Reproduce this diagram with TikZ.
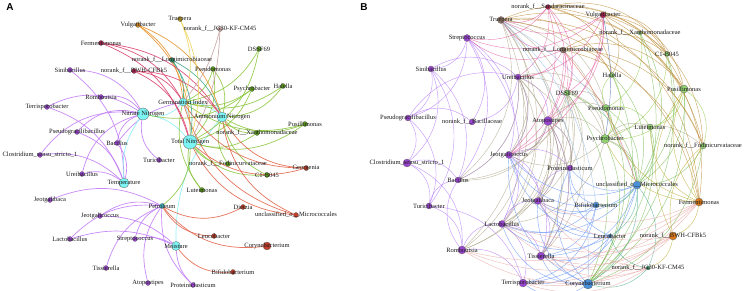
\documentclass[tikz,border=0pt]{standalone}
\usepackage{fontspec}
\setmainfont{Liberation Serif}
\newfontfamily\panelfont{Liberation Sans}
\usetikzlibrary{positioning}
\pgfdeclarelayer{edges}
\pgfsetlayers{edges,main}
\definecolor{EnvCyan}{HTML}{7DF4F4}
\definecolor{EnvEdge}{HTML}{86EEF6}
\definecolor{BacDot}{HTML}{9A45D0}
\definecolor{BacEdge}{HTML}{C27CF6}
\definecolor{ProDot}{HTML}{5E9F1A}
\definecolor{ProEdge}{HTML}{8CC63E}
\definecolor{ActDot}{HTML}{C4402A}
\definecolor{ActEdge}{HTML}{E3654A}
\definecolor{CrimDot}{HTML}{A8224E}
\definecolor{CrimEdge}{HTML}{D9416E}
\definecolor{OrgDot}{HTML}{D98A1E}
\definecolor{OrgEdge}{HTML}{E8922A}
\definecolor{YelDot}{HTML}{C9A62A}
\definecolor{YelEdge}{HTML}{F0D45A}
\definecolor{RoseEdge}{HTML}{C9A3A3}
\definecolor{TealDot}{HTML}{2F8F63}
\definecolor{TealEdge}{HTML}{43A98A}
\definecolor{PetDot}{HTML}{3DB8C2}
\definecolor{BlueDot}{HTML}{4A90D9}
\definecolor{BlueEdge}{HTML}{5C8DF2}
\definecolor{KhakiEdge}{HTML}{A9A282}
\definecolor{GoldEdge}{HTML}{B8862E}
\definecolor{PinkEdge}{HTML}{E0579B}
\definecolor{OliveEdge}{HTML}{BBA92C}
\definecolor{SalmonEdge}{HTML}{E8A2A0}
\definecolor{BrnDot}{HTML}{8F7565}
\definecolor{FermDot}{HTML}{D9791C}
\tikzset{
  dot/.style={circle, draw=black!60, line width=0.3pt, inner sep=0pt, minimum size=#1},
  lbl/.style={font=\fontsize{6.5}{7}\selectfont, text=black!90, inner sep=0pt},
  edgeA/.style={line width=0.7pt, opacity=0.9},
  edgeB/.style={line width=0.45pt, opacity=0.7},
  panel/.style={font=\panelfont\bfseries\fontsize{10}{10}\selectfont, inner sep=0pt}
}

\begin{document}
\begin{tikzpicture}[x=1pt, y=-1pt]
\useasboundingbox (0,0) rectangle (748,291);
\node[panel] (panelA) at (10,7) {A};
\node[panel] (panelB) at (364,7) {B};

% ---- panel A ----
\foreach \n/\x/\y/\r/\lab in {aNN/143/114/12/Nitrate Nitrogen, aTN/190/142/14/Total Nitrogen,
    aAN/222/117/10/Ammonium Nitrogen, aGI/183/102/8/Germination Index,
    aTemp/124/183/10/Temperature, aMoi/176/246/9/Moisture}
  \node[dot=\r pt, fill=EnvCyan] (\n) at (\x,\y) {} node[lbl] (\n-t) at (\x,\y) {\lab};
\node[dot=5pt, fill=PetDot] (aPet) at (162,206) {} node[lbl] (aPet-t) at (162,206) {Petroleum};
\foreach \n/\x/\y/\lab in {aSini/70/70/Sinibacillus, aRomb/101/97/Romboutsia, aTerr/47/107/Terrisporobacter,
    aPsg/77/132/Pseudogracilibacillus, aBac/117/143/Bacillus, aTuri/159/160/Turicibacter,
    aClos/40/155/Clostridium\_sensu\_stricto\_1, aUrei/82/174/Ureibacillus, aJeob/50/200/Jeotgalibaca,
    aJeoc/100/216/Jeotgalicoccus, aLac/70/239/Lactobacillus, aStr/135/239/Streptococcus,
    aTis/106/268/Tissierella, aAto/148/283/Atopostipes, aPro/193/285/Proteiniclasticum}
  \node[dot=5pt, fill=BacDot] (\n) at (\x,\y) {} node[lbl] (\n-t) at (\x,\y) {\lab};
\foreach \n/\x/\y/\lab in {aDSS/259/49/DSSF69, aPseu/213/69/Pseudomonas, aPsy/252/89/Psychrobacter,
    aHal/283/86/Halella, aPus/305/124/Pusillimonas, aXan/257/133/norank\_f\_\_Xanthomonadaceae,
    aFod/228/164/norank\_f\_\_Fodinicurvataceae, aC1/267/175/C1-B045, aLut/202/190/Luteimonas}
  \node[dot=5pt, fill=ProDot] (\n) at (\x,\y) {} node[lbl] (\n-t) at (\x,\y) {\lab};
\foreach \n/\x/\y/\r/\lab in {aGeo/306/168/5/Georgenia, aDie/243/207/5/Dietzia,
    aMic/296/215/5/unclassified\_o\_\_Micrococcales, aLeu/214/236/5/Leucobacter,
    aCor/267/246/8/Corynebacterium, aBif/233/272/5/Bifidobacterium}
  \node[dot=\r pt, fill=ActDot] (\n) at (\x,\y) {} node[lbl] (\n-t) at (\x,\y) {\lab};
\node[dot=5pt, fill=YelDot] (aTrue) at (180,19) {} node[lbl] (aTrue-t) at (180,19) {Truepera};
\node[dot=5pt, fill=RoseEdge] (aJG) at (220,29) {} node[lbl] (aJG-t) at (220,29) {norank\_f\_\_JG30-KF-CM45};
\node[dot=5pt, fill=OrgDot] (aVulg) at (138,25) {} node[lbl] (aVulg-t) at (138,25) {Vulgatibacter};
\node[dot=5pt, fill=CrimDot] (aFerm) at (101,43) {} node[lbl] (aFerm-t) at (101,43) {Fermentimonas};
\node[dot=5pt, fill=TealDot] (aLongi) at (172,60) {} node[lbl] (aLongi-t) at (172,60) {norank\_f\_\_Longimicrobiaceae};
\node[dot=5pt, fill=CrimDot] (aBWH) at (134,71) {} node[lbl] (aBWH-t) at (134,71) {norank\_f\_\_BWH-CFBk5};

\begin{pgfonlayer}{edges}
\foreach \src in {aSini,aRomb,aTerr,aPsg,aBac,aClos,aUrei,aTuri}
  \draw[edgeA,BacEdge] (\src) to[bend left=30] (aNN);
\foreach \src in {aSini,aTerr,aPsg,aBac,aClos,aUrei}
  \draw[edgeA,BacEdge] (\src) to[bend left=25] (aTemp);
\draw[edgeA,BacEdge] (aBac) to[bend left=20] (aGI);
\foreach \src in {aJeob,aJeoc,aLac,aStr,aTis,aAto,aPro}
  \draw[edgeA,BacEdge] (\src) to[bend left=25] (aPet);
\foreach \src in {aJeoc,aStr,aLac,aPro}
  \draw[edgeA,BacEdge] (\src) to[bend left=20] (aMoi);
% environment links
\draw[edgeA,EnvEdge] (aGI) to[bend left=30] (aNN);
\draw[edgeA,EnvEdge] (aNN) to[bend left=20] (aTN);
\draw[edgeA,EnvEdge] (aGI) to[bend left=20] (aAN);
\draw[edgeA,EnvEdge] (aGI) to[bend left=15] (aTN);
\draw[edgeA,EnvEdge] (aTemp) to[bend left=20] (aNN);
\draw[edgeA,EnvEdge] (aMoi) to[bend left=20] (aAN);
% proteobacteria
\foreach \src/\dst in {aPseu/aGI,aPseu/aTN,aPseu/aAN,aPsy/aGI,aPsy/aTN,aPsy/aNN,aHal/aGI,aHal/aAN,
    aPus/aGI,aPus/aAN,aPus/aTN,aXan/aAN,aXan/aTN,aDSS/aGI,aDSS/aTN,aFod/aTN,aFod/aAN,
    aC1/aTN,aC1/aAN,aLut/aTN,aLut/aGI,aTN/aPet}
  \draw[edgeA,ProEdge] (\src) to[bend left=25] (\dst);
% actinobacteria
\foreach \src/\dst in {aGeo/aTN,aGeo/aAN,aGeo/aGI,aMic/aTN,aMic/aAN,aMic/aGI,
    aDie/aPet,aLeu/aPet,aCor/aPet,aBif/aMoi}
  \draw[edgeA,ActEdge] (\src) to[bend left=28] (\dst);
\foreach \dst in {aGI,aTN,aAN} {
  \draw[edgeA,CrimEdge] (aFerm) to[bend left=25] (\dst);
  \draw[edgeA,CrimEdge] (aBWH) to[bend left=25] (\dst);
  \draw[edgeA,OrgEdge] (aVulg) to[bend left=25] (\dst);
  \draw[edgeA,TealEdge] (aLongi) to[bend left=20] (\dst);
}
\foreach \dst in {aGI,aTN} {
  \draw[edgeA,YelEdge] (aTrue) to[bend left=20] (\dst);
  \draw[edgeA,RoseEdge] (aJG) to[bend left=12] (\dst);
}
\end{pgfonlayer}

% ---- panel B ----
\foreach \n/\x/\y/\r/\lab in {bStr/467/38/7/Streptococcus, bSini/431/69/6/Sinibacillus, bUrei/518/77/6/Ureibacillus,
    bPsg/408/118/6/Pseudogracilibacillus, bBacil/472/122/6/norank\_f\_\_Bacillaceae, bAto/548/121/9/Atopostipes,
    bJeoc/509/155/7/Jeotgalicoccus, bPro/570/168/6/Proteiniclasticum, bClos/407/163/8/Clostridium\_sensu\_stricto\_1,
    bBac/458/180/6/Bacillus, bTuri/429/206/6/Turicibacter, bJeob/538/201/7/Jeotgalibaca,
    bLac/502/224/7/Lactobacillus, bRomb/462/250/8/Romboutsia, bTis/541/256/8/Tissierella,
    bTerr/523/283/8/Terrisporobacter}
  \node[dot=\r pt, fill=BacDot] (\n) at (\x,\y) {} node[lbl] (\n-t) at (\x,\y) {\lab};
\foreach \n/\x/\y/\r/\lab in {bXan/640/33/4/norank\_f\_\_Xanthomonadaceae, bC1/667/54/5/C1-B045,
    bHal/612/75/5/Halella, bPus/684/89/8/Pusillimonas, bDSS/567/93/6/DSSF69, bPseu/606/108/7/Pseudomonas,
    bPsy/605/139/9/Psychrobacter, bLut/650/127/6/Luteimonas, bFod/703/146/6/norank\_f\_\_Fodinicurvataceae}
  \node[dot=\r pt, fill=ProDot!80!green!60!white] (\n) at (\x,\y) {} node[lbl] (\n-t) at (\x,\y) {\lab};
\foreach \n/\x/\y/\r/\lab in {bMic/637/185/8/unclassified\_o\_\_Micrococcales, bBif/596/205/6/Bifidobacterium,
    bLeu/610/236/4/Leucobacter, bCor/588/284/10/Corynebacterium}
  \node[dot=\r pt, fill=BlueDot] (\n) at (\x,\y) {} node[lbl] (\n-t) at (\x,\y) {\lab};
\node[dot=8pt, fill=FermDot] (bFerm) at (699,202) {} node[lbl] (bFerm-t) at (699,202) {Fermentimonas};
\node[dot=8pt, fill=FermDot] (bBWH) at (673,236) {} node[lbl] (bBWH-t) at (673,236) {norank\_f\_\_BWH-CFBk5};
\node[dot=4pt, fill=TealDot] (bJG) at (648,268) {} node[lbl] (bJG-t) at (648,268) {norank\_f\_\_JG30-KF-CM45};
\node[dot=7pt, fill=BrnDot] (bTrue) at (501,20) {} node[lbl] (bTrue-t) at (501,20) {Truepera};
\node[dot=5pt, fill=CrimDot] (bSand) at (548,7) {} node[lbl] (bSand-t) at (548,7) {norank\_f\_\_Sandaracinaceae};
\node[dot=6pt, fill=CrimDot] (bVulg) at (603,15) {} node[lbl] (bVulg-t) at (603,15) {Vulgatibacter};
\node[dot=6pt, fill=BrnDot] (bLongi) at (563,50) {} node[lbl] (bLongi-t) at (563,50) {norank\_f\_\_Longimicrobiaceae};

\begin{pgfonlayer}{edges}
% bacilli
\foreach \src/\dst in {bStr/bJeoc,bStr/bBac,bStr/bLac,bStr/bPsg,bStr/bBacil,bStr/bSini,
    bSini/bPsg,bSini/bUrei,bSini/bBac,bSini/bTuri,bSini/bClos,bPsg/bBacil,bPsg/bClos,bPsg/bTuri,bPsg/bUrei,
    bClos/bBac,bClos/bTuri,bClos/bRomb,bTuri/bRomb,bTuri/bTerr,bTuri/bBac,bRomb/bTerr,bRomb/bBac,bRomb/bLac,
    bUrei/bAto,bUrei/bJeoc,bUrei/bBacil,bUrei/bBac,bAto/bJeoc,bAto/bPro,bAto/bJeob,bAto/bTis,
    bJeoc/bLac,bJeoc/bJeob,bJeoc/bTis,bJeoc/bPro,bLac/bTis,bLac/bTerr,bLac/bJeob,bJeob/bTis,bJeob/bPro}
  \draw[edgeB,BacEdge!90!blue] (\src) to[bend left=35] (\dst);
\foreach \src in {bTrue,bUrei,bAto,bDSS}
  \foreach \dst in {bJeoc,bPro,bLac,bJeob,bTis,bRomb,bPsy,bPseu,bBac}
    \draw[edgeB,KhakiEdge] (\src) to[bend left=35] (\dst);
\foreach \dst in {bLac,bJeoc,bMic,bFod,bLut}
  \draw[edgeB,KhakiEdge] (bPsy) to[bend left=35] (\dst);
\foreach \src in {bCor,bBif,bMic,bLeu}
  \foreach \dst in {bJeob,bTis,bLac,bPro,bJeoc,bTerr}
    \draw[edgeB,BlueEdge] (\src) to[bend left=35] (\dst);
\foreach \dst in {bMic,bBif,bCor}
  \draw[edgeB,BlueDot!60] (bTrue) to[bend left=20] (\dst);
% proteobacteria
\foreach \src in {bPseu,bPsy,bHal,bPus,bLut,bFod,bC1,bXan,bDSS}
  \foreach \dst in {bMic,bCor}
    \draw[edgeB,ProEdge!80!teal] (\src) to[bend left=30] (\dst);
\foreach \src/\dst in {bPseu/bPsy,bPseu/bHal,bPseu/bLut,bPus/bLut,bPus/bPsy,bPus/bFod,bHal/bPsy,bC1/bPsy,bXan/bPseu}
  \draw[edgeB,ProEdge] (\src) to[bend left=35] (\dst);
\foreach \src/\dst in {bMic/bCor,bMic/bBif,bMic/bLeu,bMic/bJG,bJG/bCor,bJG/bLeu}
  \draw[edgeB,TealEdge] (\src) to[bend left=30] (\dst);
\foreach \src in {bVulg,bSand,bLongi,bTrue}
  \foreach \dst in {bPus,bFod,bFerm,bC1,bHal}
    \draw[edgeB,GoldEdge] (\src) to[bend left=35] (\dst);
\foreach \src in {bVulg,bLongi,bSand}
  \foreach \dst in {bUrei,bAto,bDSS,bTrue,bStr,bJeoc}
    \draw[edgeB,PinkEdge] (\src) to[bend left=30] (\dst);
\foreach \dst in {bPus,bFod,bLut,bPseu,bPsy,bBWH}
  \draw[edgeB,OliveEdge] (bFerm) to[bend left=30] (\dst);
\foreach \dst in {bFod,bPus,bJG}
  \draw[edgeB,OliveEdge] (bBWH) to[bend left=30] (\dst);
\foreach \src in {bFerm,bBWH,bJG}
  \foreach \dst in {bTis,bTerr,bLac,bJeob,bRomb}
    \draw[edgeB,SalmonEdge] (\src) to[bend left=25] (\dst);
\draw[edgeB,ActEdge] (bLongi) to[bend left=10] (bMic);
\draw[edgeB,BlueEdge!70!black] (bVulg) to[bend left=10] (bPsy);
\end{pgfonlayer}
\end{tikzpicture}
\end{document}
